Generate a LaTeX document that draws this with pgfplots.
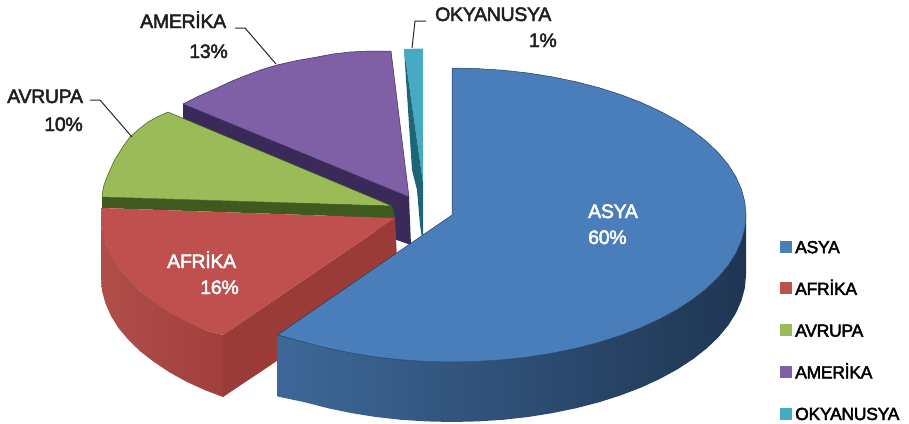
\documentclass[border=0pt]{standalone}
\usepackage{fontspec}
\usepackage{pgfplots}
\pgfplotsset{compat=1.18}
\newfontfamily\lab[FakeBold=2.5,LetterSpace=-1.5]{Liberation Sans}
\newcommand{\bigf}{\fontsize{19.5}{21}\selectfont\lab}
\newcommand{\smf}{\fontsize{17.5}{19}\selectfont\lab}
\definecolor{cblue}{HTML}{4A7EBB}
\definecolor{cred}{HTML}{C0504D}
\definecolor{cgreen}{HTML}{9BBB59}
\definecolor{cpurple}{HTML}{7F5FA5}
\definecolor{ccyan}{HTML}{46AAC4}
\definecolor{cteal}{HTML}{1C6675}
\definecolor{cgdark}{HTML}{3F5A1E}
\definecolor{cpdark}{HTML}{3A2A5A}
\definecolor{bA}{HTML}{3E6899}
\definecolor{bM}{HTML}{243D5C}
\definecolor{bG}{HTML}{1F3552}
\definecolor{rA}{HTML}{B04E4A}
\definecolor{rD}{HTML}{A03F3B}
\definecolor{rF}{HTML}{9A3B37}
\begin{document}
\begin{tikzpicture}
\path[use as bounding box] (0,0) rectangle (909pt,423pt);
\begin{axis}[
  scale only axis, width=909pt, height=423pt,
  xmin=0, xmax=909, ymin=0, ymax=423, y dir=reverse,
  hide axis, clip=false, no markers,
  legend image code/.code={\path[#1,draw=none] (0pt,-6pt) rectangle (12pt,6pt);},
  reverse legend,
  legend cell align=left,
  legend style={at={(axis cs:777.5,238)},anchor=north west,draw=none,fill=none,
    font=\smf,row sep=28.7pt,inner sep=2pt,
    nodes={inner xsep=3.5pt,inner ysep=0pt,text height=13pt,text depth=0pt}},
]
% OKYANUSYA
\addplot[fill=ccyan,draw=none] coordinates {(404,49)(423,48.5)(423,183)} --cycle;
\addlegendentry{OKYANUSYA}
\addplot[fill=cteal,draw=none,forget plot] coordinates {(404,49)(423,183)(423,235)(421.5,235)(420,225)(417,190)(412,170)} --cycle;
% AMERIKA
\addplot[fill=cpdark,draw=none,forget plot] coordinates {(183,104)(409,197)(411,245)(183,165)} --cycle;
\addplot[fill=cpurple,draw=cpdark,line width=0.5pt] coordinates {(183,104)(200,95.5)(217,88)(232,81)(247,75)(262,69.5)(277,65)(297,60.5)(317,57)(333,54)(350,52)(370,51)(391,51)(409,197)} --cycle;
\addlegendentry{AMERİKA}
% AVRUPA
\addplot[fill=cgdark,draw=none,forget plot] coordinates {(102,197)(392,206)(395,218)(102,208)} --cycle;
\addplot[fill=cgreen,draw=cgdark,line width=0.5pt] coordinates {(102,197)(103,190)(104,185)(107,177)(110,170)(114,161)(119,153)(124,145)(130,137)(139,129)(148,122)(158,116.5)(168,112)(392,206)} --cycle;
\addlegendentry{AVRUPA}
% AFRIKA
\addplot[left color=rA,right color=rD,draw=none,forget plot] coordinates {(101.7,207.7)(101,218)(105.5,243.5)(118.7,268.3)(140.4,291.5)(169.8,312.5)(206,330.6)(223,335)(223,397)(206,390.6)(187,382)(169.8,372.5)(154,362)(140.4,351.5)(128.5,340)(118.7,328.3)(111,316)(105.5,303.5)(102,291)(101,278)} --cycle;
\addplot[fill=rF,draw=none,forget plot] coordinates {(223,335)(395,218)(398,280)(223,397)} --cycle;
\addplot[fill=cred,draw=none] coordinates {(102,208)(101,218)(102,231)(105.5,243.5)(111,256)(118.7,268.3)(128.5,280)(140.4,291.5)(154,302)(169.8,312.5)(187,322)(206,330.6)(223,335)(395,218)} --cycle;
\addlegendentry{AFRİKA}
% ASYA side
\addplot[left color=bA,middle color=bM,right color=bG,draw=none,forget plot] coordinates {(277.5,335)(305,342.3)(327.8,348.2)(351.5,353.1)(375.9,357)(401,359.8)(426.4,361.4)(452,362)(477.6,361.4)(503,359.8)(528.1,357)(552.5,353.1)(576.2,348.2)(599,342.3)(620.6,335.4)(641,327.6)(659.9,318.9)(677.2,309.5)(692.8,299.3)(706.6,288.5)(718.5,277.1)(728.3,265.3)(736,253)(741.5,240.5)(744.9,227.8)(746,215)(746,275)(744.9,287.8)(741.5,300.5)(736,313)(728.3,325.3)(718.5,337.1)(706.6,348.5)(692.8,359.3)(677.2,369.5)(659.9,378.9)(641,387.6)(620.6,395.4)(599,402.3)(576.2,408.2)(552.5,413.1)(528.1,417)(503,419.8)(477.6,421.4)(452,422)(426.4,421.4)(401,419.8)(375.9,417)(351.5,413.1)(327.8,408.2)(305,402.3)(277.5,396.5)} --cycle;
% ASYA top
\addplot[fill=cblue,draw=bM,line width=0.5pt] coordinates {(452,68)(477.6,68.6)(503,70.2)(528.1,73)(552.5,76.9)(576.2,81.8)(599,87.7)(620.6,94.6)(641,102.4)(659.9,111.1)(677.2,120.5)(692.8,130.7)(706.6,141.5)(718.5,152.9)(728.3,164.7)(736,177)(741.5,189.5)(744.9,202.2)(746,215)(744.9,227.8)(741.5,240.5)(736,253)(728.3,265.3)(718.5,277.1)(706.6,288.5)(692.8,299.3)(677.2,309.5)(659.9,318.9)(641,327.6)(620.6,335.4)(599,342.3)(576.2,348.2)(552.5,353.1)(528.1,357)(503,359.8)(477.6,361.4)(452,362)(426.4,361.4)(401,359.8)(375.9,357)(351.5,353.1)(327.8,348.2)(305,342.3)(277.5,335)(452,215)} --cycle;
\addlegendentry{ASYA}
% leader lines
\addplot[black!85,line width=1pt,forget plot] coordinates {(235,28)(245,28)(276,64)};
\addplot[black!85,line width=1pt,forget plot] coordinates {(90,100)(100,100)(132,137)};
\addplot[black!85,line width=1pt,forget plot] coordinates {(426,21)(415,21)(412,48)};
% labels
\node[font=\bigf,text=black!88,inner sep=0pt,anchor=base west] at (axis cs:140,28) {AMERİKA};
\node[font=\bigf,text=black!88,inner sep=0pt,anchor=base east] at (axis cs:228,58) {13\%};
\node[font=\bigf,text=black!88,inner sep=0pt,anchor=base west] at (axis cs:7,103) {AVRUPA};
\node[font=\bigf,text=black!88,inner sep=0pt,anchor=base east] at (axis cs:83,131) {10\%};
\node[font=\bigf,text=black!88,inner sep=0pt,anchor=base west] at (axis cs:435,21) {OKYANUSYA};
\node[font=\bigf,text=black!88,inner sep=0pt,anchor=base east] at (axis cs:557,47) {1\%};
\node[font=\bigf,text=white,inner sep=0pt,anchor=base west] at (axis cs:588,218) {ASYA};
\node[font=\bigf,text=white,inner sep=0pt,anchor=base west] at (axis cs:588,244) {60\%};
\node[font=\bigf,text=white,inner sep=0pt,anchor=base west] at (axis cs:167,268) {AFRİKA};
\node[font=\bigf,text=white,inner sep=0pt,anchor=base east] at (axis cs:239,294) {16\%};
\end{axis}
\end{tikzpicture}
\end{document}
